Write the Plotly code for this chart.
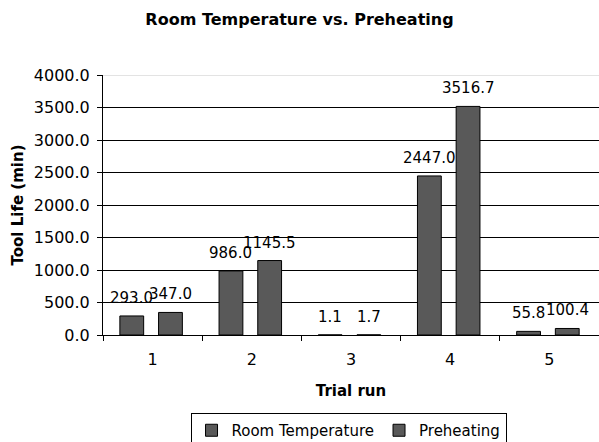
import plotly.graph_objects as go

categories = ["1", "2", "3", "4", "5"]
room_temp = [293.0, 986.0, 1.1, 2447.0, 55.8]
preheating = [347.0, 1145.5, 1.7, 3516.7, 100.4]
y_ticks = [0, 500, 1000, 1500, 2000, 2500, 3000, 3500, 4000]

FONT = "DejaVu Sans, Liberation Sans, Arial, sans-serif"
BAR_COLOR = "#595959"
BAR_W = 0.24
OFFSETS = [-0.33, 0.06]

fig = go.Figure()
series = [("Room Temperature", room_temp), ("Preheating", preheating)]
for (name, vals), off in zip(series, OFFSETS):
    fig.add_trace(go.Bar(
        x=categories, y=vals, name=name,
        width=BAR_W, offset=off,
        marker=dict(color=BAR_COLOR, line=dict(color="#000000", width=1)),
    ))
    for i, v in enumerate(vals):
        fig.add_annotation(
            x=i + off + BAR_W / 2, y=v, text=f"{v:.1f}",
            showarrow=False, yshift=18, yanchor="middle", xanchor="center",
            font=dict(family=FONT, size=15, color="#000000"),
        )

# light grey top border of the plot area (at the top tick)
fig.add_shape(type="line", xref="paper", yref="y", x0=0, x1=1,
              y0=max(y_ticks), y1=max(y_ticks),
              line=dict(color="#c8c8c8", width=1))

fig.update_layout(
    width=599, height=442,
    margin=dict(l=103, r=0, t=75, b=107, autoexpand=False),
    paper_bgcolor="#ffffff", plot_bgcolor="#ffffff",
    barmode="overlay",
    font=dict(family=FONT, size=16, color="#000000"),
    title=dict(text="<b>Room Temperature vs. Preheating</b>", x=0.5, xanchor="center",
               y=0.955, yanchor="middle", font=dict(family=FONT, size=16, color="#000000")),
    showlegend=True,
    legend=dict(orientation="h", x=0.495, xanchor="center", y=-0.3, yanchor="top",
                bordercolor="#000000", borderwidth=1, bgcolor="#ffffff",
                font=dict(family=FONT, size=15), itemwidth=30, tracegroupgap=0),
)
fig.update_xaxes(
    type="category", range=[-0.5, 4.5], automargin=False,
    showline=True, linecolor="#000000", linewidth=1,
    ticks="outside", tickson="boundaries", ticklen=5, tickcolor="#000000",
    ticklabelstandoff=10,
    showgrid=False,
    title=dict(text="<b>Trial run</b>", font=dict(family=FONT, size=15), standoff=17),
    tickfont=dict(family=FONT, size=16),
)
fig.update_yaxes(
    range=[0, 4000], tickvals=y_ticks, tickformat=".1f", automargin=False,
    showline=True, linecolor="#000000", linewidth=1,
    ticks="outside", ticklen=5, tickcolor="#000000", ticklabelstandoff=4,
    showgrid=True, gridcolor="#000000", gridwidth=1,
    zeroline=False,
    title=dict(text="<b>Tool Life (min)</b>", font=dict(family=FONT, size=15), standoff=6),
    tickfont=dict(family=FONT, size=16),
)

fig.write_html("out.html", config={"displayModeBar": False},
               post_script="document.body.style.margin='0';document.body.style.overflow='hidden';")
